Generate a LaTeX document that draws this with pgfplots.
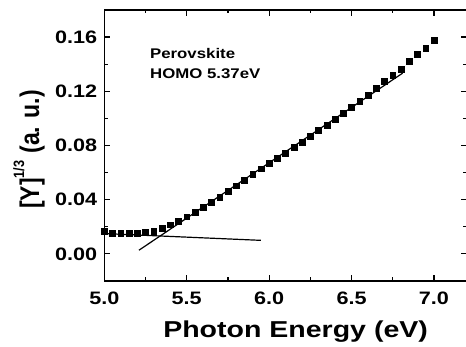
\documentclass[border=0pt]{standalone}
\usepackage{fontspec}
\setmainfont{Liberation Sans}
\newfontfamily\wide[FakeStretch=1.2]{Liberation Sans}
\newfontfamily\widelab[FakeStretch=1.24]{Liberation Sans}
\newfontfamily\narrowlab[FakeStretch=0.85]{Liberation Sans}
\usepackage{pgfplots}
\pgfplotsset{compat=1.18}
\begin{document}
\begin{tikzpicture}
\begin{axis}[
  scale only axis,
  width=362.6pt, height=271pt,
  xmin=5.0, xmax=7.2, ymin=-0.02, ymax=0.18,
  xtick={5.0,5.5,6.0,6.5,7.0},
  ytick={0,0.04,0.08,0.12,0.16},
  minor tick num=1,
  tick align=inside,
  major tick length=6pt, minor tick length=3.5pt,
  axis line style={line width=1.5pt},
  every tick/.style={line width=1.2pt, black},
  /pgf/number format/assume math mode=true,
  tick label style={font=\wide\fontsize{18}{18}\selectfont\bfseries, inner sep=0pt},
  xticklabel style={/pgf/number format/fixed, /pgf/number format/fixed zerofill, /pgf/number format/precision=1, anchor=base, yshift=-24pt},
  yticklabel style={/pgf/number format/fixed, /pgf/number format/fixed zerofill, /pgf/number format/precision=2, anchor=east, xshift=-7pt},
  xlabel={Photon Energy (eV)},
  ylabel={[Y]\raisebox{0.55em}{\fontsize{15}{15}\selectfont 1/3}\hspace{7pt}(a. u.)},
  xlabel style={font=\widelab\fontsize{23}{23}\selectfont\bfseries, at={(axis description cs:0.5,0)}, anchor=base, yshift=-57pt, xshift=10pt},
  ylabel style={font=\narrowlab\fontsize{27}{27}\selectfont\bfseries, at={(axis description cs:-0.18,0.485)}, anchor=base},
  clip=false,
]
\addplot[only marks, mark=square*, mark size=2.9pt, black] coordinates {
(5.00,0.0170) (5.05,0.0155) (5.10,0.0153) (5.15,0.0152) (5.20,0.0153)
(5.25,0.0158) (5.30,0.0170) (5.35,0.0190) (5.40,0.0215) (5.45,0.0242)
(5.50,0.0275) (5.55,0.0310) (5.60,0.0345) (5.65,0.0383) (5.70,0.0420)
(5.75,0.0462) (5.80,0.0503) (5.85,0.0545) (5.90,0.0588) (5.95,0.0629)
(6.00,0.0670) (6.05,0.0708) (6.10,0.0746) (6.15,0.0788) (6.20,0.0826)
(6.25,0.0866) (6.30,0.0910) (6.35,0.0952) (6.40,0.0995) (6.45,0.1038)
(6.50,0.1080) (6.55,0.1128) (6.60,0.1174) (6.65,0.1222) (6.70,0.1272)
(6.75,0.1320) (6.80,0.1366) (6.85,0.1420) (6.90,0.1475) (6.95,0.1520)
(7.00,0.1575)
};
\addplot[black, line width=1.2pt] coordinates {(5.21,0.0027) (6.81,0.1334)};
\addplot[black, line width=1.2pt] coordinates {(5.0,0.0150) (5.95,0.0100)};
\node[anchor=north west, align=left, font=\wide\fontsize{14}{20}\selectfont\bfseries, inner sep=0pt]
  at (axis cs:5.277,0.1520) {Perovskite\\HOMO 5.37eV};
\end{axis}
\pgfresetboundingbox
\path[use as bounding box] ([shift={(-104.3pt,-66pt)}]current axis.south west) rectangle ([shift={(-0.9pt,10pt)}]current axis.north east);
\end{tikzpicture}
\end{document}
